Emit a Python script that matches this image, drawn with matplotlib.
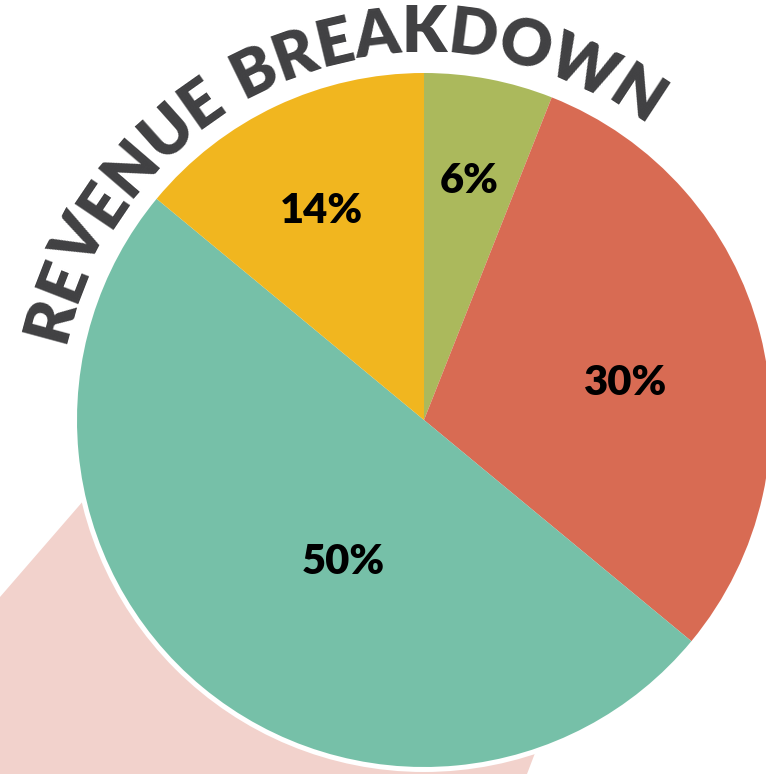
import numpy as np
import matplotlib
matplotlib.use("Agg")
import matplotlib.pyplot as plt
from matplotlib.patches import Polygon, Circle
from matplotlib.font_manager import FontProperties
from matplotlib.textpath import TextToPath

# -----------------------------
# DATA
# -----------------------------
shares = [6, 30, 50, 14]
slice_colors = ["#abb95c", "#d86b53", "#76c0a8", "#f1b61f"]
title_text = "REVENUE BREAKDOWN"

# label placement tweaks (fraction of radius, angle offset in degrees)
label_dist = [0.70, 0.59, 0.47, 0.67]
label_shift = [0, -4, 10, 1]

# -----------------------------
# CANVAS (pixel-like coordinates, y up)
# -----------------------------
W, H = 766, 774
fig = plt.figure(figsize=(W / 100, H / 100), dpi=100)
ax = fig.add_axes([0, 0, 1, 1])

cx, cy, R = 424, H - 420, 347

# pink backdrop shape behind the pie
backdrop = Polygon(
    [(0, H - 597), (110, H - 470), (540, H - 740), (527, 0), (0, 0)],
    closed=True, facecolor="#f2d2cc", edgecolor="none", zorder=0
)
ax.add_patch(backdrop)

# white ring around the pie
ax.add_patch(Circle((cx, cy), R + 5, facecolor="white", edgecolor="none", zorder=1))

wedges, _, autotexts = ax.pie(
    shares,
    colors=slice_colors,
    startangle=90,
    counterclock=False,
    center=(cx, cy),
    radius=R,
    autopct="%d%%",
    wedgeprops=dict(edgecolor="none", linewidth=0, zorder=2),
    textprops=dict(fontsize=30, fontweight="heavy", family="Lato", color="black"),
    frame=True,
)
ax.set_xlim(0, W)
ax.set_ylim(0, H)
ax.set_aspect("equal")
ax.axis("off")

for w, t, d, s in zip(wedges, autotexts, label_dist, label_shift):
    mid = np.deg2rad((w.theta1 + w.theta2) / 2 + s)
    t.set_position((cx + d * R * np.cos(mid), cy + d * R * np.sin(mid)))
    t.set_zorder(5)

# -----------------------------
# CURVED TITLE
# -----------------------------
title_fs = 46
fp = FontProperties(family="Lato", weight="heavy", size=title_fs)
t2p = TextToPath()
widths = []
for ch in title_text:
    w_pt = t2p.get_text_width_height_descent(ch if ch != " " else "I", fp, ismath=False)[0]
    widths.append(w_pt * 100 / 72)
widths = np.array(widths)
widths[title_text.index(" ")] *= 0.9

text_r = 386
start_deg, end_deg = 168, 53
span = np.deg2rad(start_deg - end_deg) * text_r
gap = (span - widths.sum()) / (len(title_text) - 1)
edge = 0.0
for ch, w in zip(title_text, widths):
    centre = edge + w / 2
    edge += w + gap
    if ch == " ":
        continue
    ang = start_deg - np.rad2deg(centre / text_r)
    a = np.deg2rad(ang)
    ax.text(
        cx + text_r * np.cos(a), cy + text_r * np.sin(a), ch,
        rotation=ang - 90, rotation_mode="anchor",
        ha="center", va="center",
        fontproperties=fp, color="#404042",
        zorder=6,
    )

fig.savefig("out.png", dpi=100)
